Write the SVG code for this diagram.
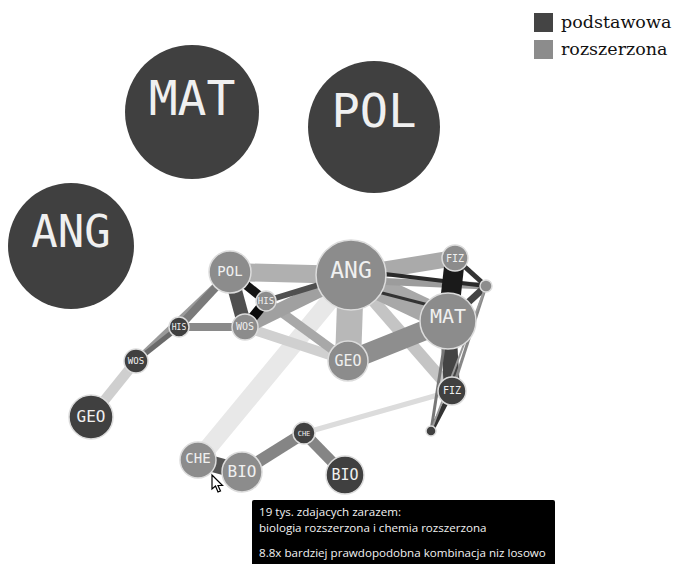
<svg xmlns="http://www.w3.org/2000/svg" width="676" height="564" viewBox="0 0 676 564">
<style>
.big{fill:#404040}
.pod{fill:#404040;stroke:#dcdcdc;stroke-width:1.5}
.roz{fill:#8c8c8c;stroke:#dcdcdc;stroke-width:1.5}
.lbl{font-family:"DejaVu Sans Mono",monospace;fill:#f0f0f0;text-anchor:middle}
.leg{font-family:"DejaVu Serif",serif;font-size:17.5px;fill:#111}
.tip{font-family:"Open Sans","DejaVu Sans",sans-serif;font-size:11.6px;fill:#f2f2f2}
#links line{stroke-linecap:butt}
</style>
<rect width="676" height="564" fill="#ffffff"/>
<g id="legend">
<rect x="534" y="13" width="19" height="19" fill="#444"/>
<text class="leg" x="561" y="28">podstawowa</text>
<rect x="534" y="40" width="19" height="19" fill="#8c8c8c"/>
<text class="leg" x="561" y="55">rozszerzona</text>
</g>
<g id="big-MAT"><circle class="big" cx="192" cy="112" r="67"/><text class="lbl" x="192" y="115" font-size="48">MAT</text></g>
<g id="big-POL"><circle class="big" cx="374" cy="127" r="66"/><text class="lbl" x="374" y="127" font-size="47">POL</text></g>
<g id="big-ANG"><circle class="big" cx="71" cy="246" r="63"/><text class="lbl" x="71" y="247" font-size="44">ANG</text></g>
<g id="links">
<line x1="351" y1="275" x2="208" y2="448" stroke="#e8e8e8" stroke-width="18"/>
<line x1="136" y1="361" x2="91" y2="417" stroke="#cfcfcf" stroke-width="10"/>
<line x1="304" y1="433" x2="452" y2="391" stroke="#dcdcdc" stroke-width="5"/>
<line x1="245" y1="327" x2="348" y2="361" stroke="#d0d0d0" stroke-width="10"/>
<line x1="351" y1="275" x2="452" y2="391" stroke="#c4c4c4" stroke-width="12"/>
<line x1="351" y1="275" x2="348" y2="361" stroke="#b8b8b8" stroke-width="26"/>
<line x1="230" y1="272" x2="351" y2="275" stroke="#b0b0b0" stroke-width="18"/>
<line x1="351" y1="275" x2="455" y2="258" stroke="#aaaaaa" stroke-width="16"/>
<line x1="351" y1="275" x2="448" y2="321" stroke="#a8a8a8" stroke-width="24"/>
<line x1="266" y1="301" x2="348" y2="361" stroke="#a8a8a8" stroke-width="9"/>
<line x1="245" y1="327" x2="351" y2="275" stroke="#a0a0a0" stroke-width="14"/>
<line x1="351" y1="280" x2="486" y2="286" stroke="#9c9c9c" stroke-width="7"/>
<line x1="348" y1="361" x2="448" y2="321" stroke="#8e8e8e" stroke-width="20"/>
<line x1="179" y1="327" x2="245" y2="327" stroke="#8a8a8a" stroke-width="8"/>
<line x1="136" y1="361" x2="230" y2="272" stroke="#9a9a9a" stroke-width="6"/>
<line x1="179" y1="327" x2="230" y2="272" stroke="#7a7a7a" stroke-width="8"/>
<line x1="136" y1="361" x2="179" y2="327" stroke="#6a6a6a" stroke-width="5"/>
<line x1="304" y1="433" x2="242" y2="472" stroke="#858585" stroke-width="12"/>
<line x1="304" y1="433" x2="345" y2="475" stroke="#858585" stroke-width="11"/>
<line x1="198" y1="460" x2="242" y2="472" stroke="#555555" stroke-width="16"/>
<line x1="230" y1="272" x2="245" y2="327" stroke="#505050" stroke-width="14"/>
<line x1="266" y1="301" x2="351" y2="275" stroke="#505050" stroke-width="6"/>
<line x1="230" y1="272" x2="266" y2="301" stroke="#151515" stroke-width="9"/>
<line x1="266" y1="301" x2="245" y2="327" stroke="#0a0a0a" stroke-width="10"/>
<line x1="351" y1="270" x2="486" y2="286" stroke="#2a2a2a" stroke-width="4"/>
<line x1="351" y1="285" x2="448" y2="310" stroke="#333333" stroke-width="3"/>
<line x1="455" y1="258" x2="448" y2="321" stroke="#1a1a1a" stroke-width="20"/>
<line x1="448" y1="321" x2="452" y2="391" stroke="#444444" stroke-width="16"/>
<line x1="455" y1="258" x2="486" y2="286" stroke="#333333" stroke-width="5"/>
<line x1="448" y1="321" x2="486" y2="286" stroke="#444444" stroke-width="7"/>
<line x1="452" y1="391" x2="431" y2="431" stroke="#333333" stroke-width="5"/>
<line x1="448" y1="321" x2="431" y2="431" stroke="#777777" stroke-width="3"/>
<line x1="486" y1="286" x2="452" y2="391" stroke="#888888" stroke-width="3"/>
<line x1="486" y1="286" x2="431" y2="431" stroke="#999999" stroke-width="2"/>
</g>
<g id="n-ANG"><circle class="roz" cx="351" cy="275" r="35"/><text class="lbl" x="351" y="278" font-size="23">ANG</text></g>
<g id="n-POL"><circle class="roz" cx="230" cy="272" r="21"/><text class="lbl" x="230" y="276" font-size="14">POL</text></g>
<g id="n-HISr"><circle class="roz" cx="266" cy="301" r="10"/><text class="lbl" x="266" y="304" font-size="9">HIS</text></g>
<g id="n-WOSr"><circle class="roz" cx="245" cy="327" r="13"/><text class="lbl" x="245" y="330" font-size="10">WOS</text></g>
<g id="n-GEOr"><circle class="roz" cx="348" cy="361" r="20"/><text class="lbl" x="348" y="366" font-size="15">GEO</text></g>
<g id="n-MATr"><circle class="roz" cx="448" cy="321" r="28"/><text class="lbl" x="448" y="323" font-size="20">MAT</text></g>
<g id="n-FIZr"><circle class="roz" cx="455" cy="258" r="13"/><text class="lbl" x="455" y="262" font-size="10">FIZ</text></g>
<g id="n-SMr"><circle class="roz" cx="486" cy="286" r="6"/></g>
<g id="n-FIZp"><circle class="pod" cx="452" cy="391" r="14"/><text class="lbl" x="452" y="394" font-size="10">FIZ</text></g>
<g id="n-SMp"><circle class="pod" cx="431" cy="431" r="5"/></g>
<g id="n-HISp"><circle class="pod" cx="179" cy="327" r="10"/><text class="lbl" x="179" y="330" font-size="8">HIS</text></g>
<g id="n-WOSp"><circle class="pod" cx="136" cy="361" r="12"/><text class="lbl" x="136" y="364" font-size="9">WOS</text></g>
<g id="n-GEOp"><circle class="pod" cx="91" cy="417" r="22"/><text class="lbl" x="91" y="422" font-size="16">GEO</text></g>
<g id="n-CHEr"><circle class="roz" cx="198" cy="460" r="18"/><text class="lbl" x="198" y="463" font-size="14">CHE</text></g>
<g id="n-BIOr"><circle class="roz" cx="242" cy="472" r="20"/><text class="lbl" x="242" y="477" font-size="16">BIO</text></g>
<g id="n-CHEp"><circle class="pod" cx="304" cy="433" r="11"/><text class="lbl" x="304" y="436" font-size="7">CHE</text></g>
<g id="n-BIOp"><circle class="pod" cx="345" cy="475" r="19"/><text class="lbl" x="345" y="480" font-size="15">BIO</text></g>
<g id="cursor"><polygon points="212,475 212,489 215.5,486 218,492 220.5,491 218,485.5 222.5,485.5" fill="#ffffff" stroke="#000" stroke-width="1.2"/></g>
<g id="tooltip">
<rect x="252" y="500" width="303" height="70" rx="2" fill="#000"/>
<text class="tip" x="259" y="516">19 tys. zdajacych zarazem:</text>
<text class="tip" x="259" y="532">biologia rozszerzona i chemia rozszerzona</text>
<text class="tip" x="259" y="557">8.8x bardziej prawdopodobna kombinacja niz losowo</text>
</g>
</svg>
